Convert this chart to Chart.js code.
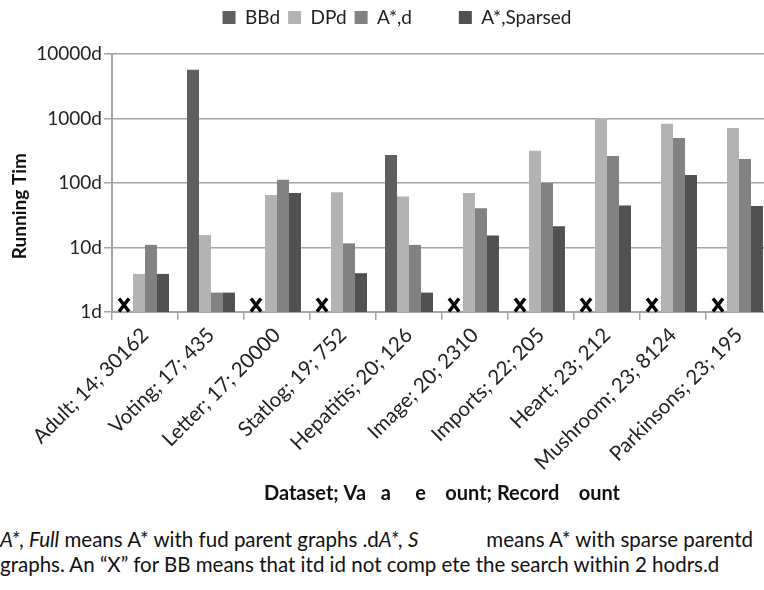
<!DOCTYPE html>
<html lang="en">
  <head>
    <meta charset="UTF-8" />
    <meta name="viewport" content="width=device-width, initial-scale=1.0" />
    <script src="https://cdn.jsdelivr.net/npm/chart.js@4.4.0/dist/chart.umd.min.js"></script>
    <title>Running time</title>
    <style>
      body { margin: 0; overflow: hidden; background: #fff; }
      #box { position: absolute; left: 0; top: 0; width: 794px; height: 512px; }
      #note {
        position: absolute; left: 0; top: 527px; width: 764px;
        font-family: Lato, "Noto Sans", sans-serif; font-size: 20.5px;
        line-height: 25px; color: #111; white-space: nowrap; overflow: hidden;
      }
      .gap { display: inline-block; width: 68px; }
    </style>
  </head>
  <body>
    <div id="box">
      <canvas id="myChart"></canvas>
    </div>
    <div id="note">
      <i>A*, Full</i> means A* with fud parent graphs .d<i>A*, S</i><span class="gap"></span>means A* with sparse parentd<br />
      graphs. An “X” for BB means that itd id not comp ete the search within 2 hodrs.d
    </div>
    <script>
      // dataset; variable count; record count
      const labels = [
        "Adult; 14; 30162",
        "Voting; 17; 435",
        "Letter; 17; 20000",
        "Statlog; 19; 752",
        "Hepatitis; 20; 126",
        "Image; 20; 2310",
        "Imports; 22; 205",
        "Heart; 23; 212",
        "Mushroom; 23; 8124",
        "Parkinsons; 23; 195",
      ];
      const seriesNames = ["BBd", "DPd", "A*,d        ", "A*,Sparsed"];
      // null = BB did not finish (drawn as an X)
      const bbTimes = [null, 5700, null, null, 272, null, null, null, null, null];
      const dpTimes = [3.9, 15.6, 65, 72, 62, 70, 315, 1020, 830, 715];
      const fullTimes = [11, 2, 112, 11.6, 11, 40.6, 100, 262, 500, 236];
      const sparseTimes = [3.9, 2, 70, 4, 2, 15.4, 21.3, 45, 133, 44];
      const yTicks = [1, 10, 100, 1000, 10000];

      const colors = ["#5f5f5f", "#b3b3b3", "#828282", "#515151"];
      const gridGray = "#a4a4a4";
      const font = "Lato, 'Noto Sans', sans-serif";

      // bold X where BB has no value
      const timeoutMarks = {
        id: "timeoutMarks",
        afterDatasetsDraw(chart) {
          const ctx = chart.ctx;
          const y = chart.scales.y;
          const meta = chart.getDatasetMeta(1);
          ctx.save();
          ctx.strokeStyle = "#000";
          ctx.lineWidth = 3.5;
          bbTimes.forEach(function (v, i) {
            if (v !== null) return;
            const bar = meta.data[i];
            const cx = bar.x - bar.width - 3;
            const cy = y.getPixelForValue(1) - 7;
            ctx.beginPath();
            ctx.moveTo(cx - 5, cy - 6.5);
            ctx.lineTo(cx + 5, cy + 6.5);
            ctx.moveTo(cx + 5, cy - 6.5);
            ctx.lineTo(cx - 5, cy + 6.5);
            ctx.stroke();
          });
          ctx.restore();
        },
      };

      // extra room under the legend, and nudge it right a little
      const legendGap = {
        id: "legendGap",
        beforeInit(chart) {
          const fit = chart.legend.fit;
          chart.legend.fit = function () {
            fit.bind(chart.legend)();
            this.height += 17;
          };
        },
        afterLayout(chart) {
          chart.legend.left += 11;
          chart.legend.right += 11;
        },
      };

      const allData = [bbTimes, dpTimes, fullTimes, sparseTimes];
      const datasets = allData.map(function (d, i) {
        return {
          label: seriesNames[i],
          data: d,
          backgroundColor: colors[i],
          barPercentage: 1,
          categoryPercentage: 0.727,
        };
      });

      const ctx = document.getElementById("myChart");
      new Chart(ctx, {
        type: "bar",
        data: { labels: labels, datasets: datasets },
        plugins: [timeoutMarks, legendGap],
        options: {
          responsive: true,
          maintainAspectRatio: false,
          animation: false,
          layout: { padding: { left: 0, right: 22, top: 0, bottom: 6 } },
          plugins: {
            legend: {
              position: "top",
              labels: {
                boxWidth: 13,
                boxHeight: 13,
                padding: 8,
                color: "#222",
                font: { family: font, size: 19 },
              },
            },
            tooltip: { enabled: false },
          },
          scales: {
            x: {
              grid: {
                offset: true,
                drawOnChartArea: false,
                drawTicks: true,
                tickLength: 8,
                color: gridGray,
                lineWidth: 1.5,
              },
              border: { color: gridGray, width: 2 },
              ticks: {
                minRotation: 45,
                maxRotation: 45,
                autoSkip: false,
                color: "#222",
                font: { family: font, size: 20.5 },
              },
              title: {
                display: true,
                text: "Dataset; Va   a     e    ount; Record    ount",
                color: "#111",
                font: { family: font, size: 20, weight: "bold" },
                padding: { top: 4, bottom: 0 },
              },
            },
            y: {
              type: "logarithmic",
              min: 1,
              max: 10000,
              afterBuildTicks: function (scale) {
                scale.ticks = yTicks.map(function (v) {
                  return { value: v, major: true };
                });
              },
              afterFit: function (scale) {
                scale.width = 112;
              },
              grid: { color: gridGray, lineWidth: 1.5, tickLength: 8 },
              border: { color: gridGray, width: 2 },
              ticks: {
                padding: 2,
                color: "#222",
                font: { family: font, size: 19 },
                callback: function (v) {
                  return v + "d";
                },
              },
              title: {
                display: true,
                text: "Running Tim          ",
                color: "#111",
                font: { family: font, size: 19, weight: "bold" },
                padding: { top: 8, bottom: 0 },
              },
            },
          },
        },
      });
    </script>
  </body>
</html>
